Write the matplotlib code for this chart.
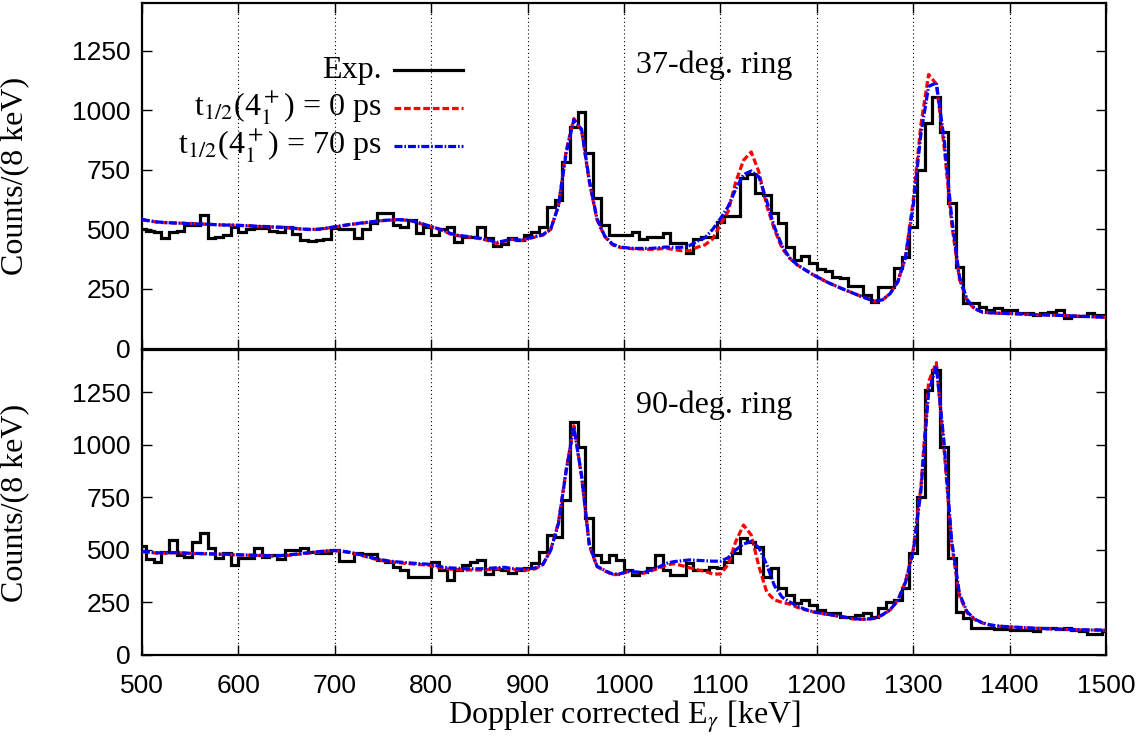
import numpy as np
import matplotlib
matplotlib.use("Agg")
import matplotlib.pyplot as plt
from matplotlib.lines import Line2D

# 8 keV bins, edges on multiples of 8 keV
edges = np.arange(496, 1505, 8)
centres = np.arange(500, 1501, 8)

# 37-deg. ring
exp_37 = [500, 495, 490, 465, 490, 492, 520, 520, 562, 465, 468, 475, 510, 490, 500, 505,
          505, 495, 490, 510, 480, 455, 450, 455, 460, 505, 500, 500, 462, 500, 525, 568,
          570, 520, 511, 539, 483, 508, 476, 500, 511, 448, 469, 469, 511, 465, 430, 440,
          465, 455, 475, 490, 511, 595, 623, 783, 930, 994, 820, 630, 518, 476, 476, 476,
          490, 460, 466, 466, 483, 441, 441, 399, 458, 466, 466, 532, 556, 556, 714, 732,
          651, 644, 567, 528, 427, 371, 388, 357, 332, 326, 301, 294, 264, 264, 224, 196,
          259, 259, 336, 382, 511, 749, 945, 1056, 910, 609, 343, 190, 190, 175, 161, 168,
          161, 161, 148, 148, 141, 148, 154, 161, 130, 136, 136, 148, 141, 141]
sim0_37 = [540, 535, 530, 528, 527, 526, 525, 524, 522, 520, 519, 518, 517, 516, 514, 512,
           511, 510, 508, 506, 503, 500, 499, 500, 505, 510, 515, 520, 524, 528, 532, 536,
           538, 540, 539, 535, 525, 515, 505, 495, 480, 473, 469, 465, 460, 452, 441, 450,
           458, 452, 460, 468, 476, 500, 600, 830, 965, 915, 700, 540, 470, 435, 424, 420,
           418, 417, 416, 418, 420, 415, 410, 410, 425, 435, 460, 520, 575, 700, 790, 825,
           740, 600, 500, 420, 378, 350, 330, 310, 293, 276, 262, 248, 235, 222, 210, 198,
           203, 230, 280, 385, 620, 940, 1150, 1110, 850, 520, 290, 200, 165, 152, 150, 148,
           147, 146, 145, 143, 142, 141, 140, 139, 138, 136, 135, 134, 132, 131]
sim70_37 = [542, 536, 531, 529, 527, 526, 524, 523, 522, 521, 519, 518, 518, 516, 515, 513,
            512, 510, 509, 507, 504, 501, 500, 501, 506, 511, 516, 521, 525, 529, 533, 537,
            539, 541, 540, 536, 527, 517, 507, 497, 483, 475, 471, 467, 462, 455, 445, 452,
            460, 455, 462, 470, 478, 502, 598, 820, 960, 920, 705, 545, 472, 438, 426, 422,
            420, 420, 420, 423, 426, 424, 425, 432, 450, 465, 500, 545, 595, 670, 730, 745,
            720, 620, 510, 430, 380, 350, 330, 310, 293, 276, 262, 248, 235, 222, 210, 199,
            204, 230, 280, 380, 600, 900, 1100, 1115, 880, 545, 300, 205, 167, 153, 150, 148,
            147, 146, 145, 143, 142, 141, 140, 139, 138, 136, 135, 134, 132, 131]

# 90-deg. ring
exp_90 = [520, 455, 444, 491, 547, 475, 467, 539, 578, 507, 459, 486, 428, 459, 459, 507,
          464, 475, 455, 499, 499, 507, 491, 483, 483, 499, 448, 448, 486, 480, 480, 451,
          444, 420, 404, 372, 369, 369, 444, 404, 356, 404, 428, 444, 451, 385, 410, 404,
          388, 404, 412, 439, 491, 570, 562, 737, 1109, 990, 650, 475, 444, 475, 452, 404,
          380, 396, 412, 475, 404, 380, 380, 436, 404, 404, 420, 412, 444, 483, 555, 539,
          515, 372, 415, 317, 285, 246, 261, 238, 214, 198, 198, 182, 182, 190, 198, 182,
          222, 253, 261, 318, 483, 752, 1260, 1355, 990, 460, 206, 174, 130, 127, 127, 124,
          124, 120, 120, 117, 115, 127, 127, 124, 130, 120, 112, 98, 100, 112]
sim0_90 = [491, 488, 484, 484, 486, 485, 483, 482, 481, 480, 479, 478, 476, 475, 474, 473,
           472, 470, 471, 474, 478, 482, 486, 490, 494, 496, 492, 486, 478, 468, 458, 450,
           444, 440, 436, 433, 430, 428, 420, 412, 408, 406, 404, 404, 404, 406, 410, 412,
           406, 404, 404, 410, 430, 500, 630, 880, 1090, 848, 520, 420, 400, 382, 383, 396,
           392, 388, 400, 412, 428, 434, 425, 415, 405, 398, 385, 385, 430, 540, 618, 570,
           420, 300, 262, 250, 242, 226, 215, 205, 198, 192, 186, 180, 172, 170, 170, 174,
           190, 214, 260, 350, 500, 800, 1300, 1390, 980, 520, 280, 200, 168, 152, 142, 137,
           134, 132, 130, 128, 127, 125, 124, 122, 121, 120, 119, 119, 118, 118]
sim70_90 = [493, 489, 486, 485, 487, 486, 484, 483, 482, 481, 480, 479, 477, 476, 475, 474,
            473, 472, 473, 476, 480, 484, 488, 492, 495, 497, 494, 488, 480, 470, 461, 453,
            447, 443, 440, 437, 434, 432, 426, 418, 414, 412, 410, 410, 410, 412, 415, 417,
            411, 409, 409, 414, 432, 498, 625, 875, 1085, 852, 525, 422, 402, 385, 386, 398,
            395, 392, 404, 418, 436, 444, 448, 452, 450, 448, 446, 446, 462, 500, 528, 540,
            510, 430, 330, 275, 252, 232, 217, 206, 199, 193, 187, 181, 174, 171, 171, 175,
            191, 215, 258, 345, 490, 780, 1250, 1375, 1010, 540, 290, 205, 170, 153, 143, 138,
            135, 133, 131, 129, 127, 126, 124, 123, 122, 121, 120, 119, 119, 118]

panels = [(exp_37, sim0_37, sim70_37, "37-deg. ring"),
          (exp_90, sim0_90, sim70_90, "90-deg. ring")]

plt.rcParams["mathtext.fontset"] = "stix"
serif = ["Liberation Serif", "DejaVu Serif"]
tickfont = ["Liberation Sans Narrow", "Liberation Sans", "DejaVu Sans"]

W, H = 1146, 744
fig = plt.figure(figsize=(W / 100, H / 100), dpi=100)
L, R = 142, 1106
boxes = [(3, 348.5), (350, 655)]

LW = 2.3
red_ls = (0, (2.1, 0.9))
blue_ls = (0, (2.5, 0.6, 0.5, 0.6))

axes = []
for k, ((exp, s0, s70, title), (top, bot)) in enumerate(zip(panels, boxes)):
    ax = fig.add_axes([L / W, 1 - bot / H, (R - L) / W, (bot - top) / H])
    axes.append(ax)
    ax.stairs(exp, edges, color="black", lw=LW, baseline=None, zorder=3)
    ax.plot(centres, s0, color="red", ls=red_ls, lw=LW, zorder=4)
    ax.plot(centres, s70, color="blue", ls=blue_ls, lw=LW, zorder=5)
    ax.set_xlim(500, 1500)
    ax.set_ylim(0, 1450)
    ax.set_xticks(range(500, 1501, 100))
    ax.set_yticks(range(0, 1251, 250))
    ax.xaxis.grid(True, ls=(0, (1, 2.5)), color="black", lw=0.8)
    ax.tick_params(direction="in", top=True, right=True, length=7, width=1.0,
                   labelsize=19)
    ax.tick_params(axis="y", pad=8)
    ax.tick_params(axis="x", pad=14)
    for lab in ax.get_xticklabels() + ax.get_yticklabels():
        lab.set_family(tickfont)
    for sp in ax.spines.values():
        sp.set_linewidth(1.6)
    ax.set_ylabel("Counts/(8 keV)", family=serif, fontsize=23)
    ax.yaxis.set_label_coords(-0.117, 0.5)
    ax.text(0.512, 0.82, title, transform=ax.transAxes, family=serif,
            fontsize=23, ha="left", va="center")
    if k == 0:
        ax.tick_params(labelbottom=False)

axes[1].set_xlabel(r"Doppler corrected E$_\gamma$ [keV]", family=serif, fontsize=23,
                   labelpad=0)

# key, text right-justified left of the sample lines
ax = axes[0]
key = [("Exp.", dict(color="black", ls="-")),
       (r"t$_{1/2}$(4$^+_1$) = 0 ps", dict(color="red", ls=red_ls)),
       (r"t$_{1/2}$(4$^+_1$) = 70 ps", dict(color="blue", ls=blue_ls))]
for i, (label, st) in enumerate(key):
    y = 0.806 - i * 0.11
    ax.add_line(Line2D([0.261, 0.333], [y, y], transform=ax.transAxes, lw=LW, **st))
    ax.text(0.249, y, label, transform=ax.transAxes, ha="right", va="center",
            family=serif, fontsize=23)

fig.savefig("out.png", dpi=100)
